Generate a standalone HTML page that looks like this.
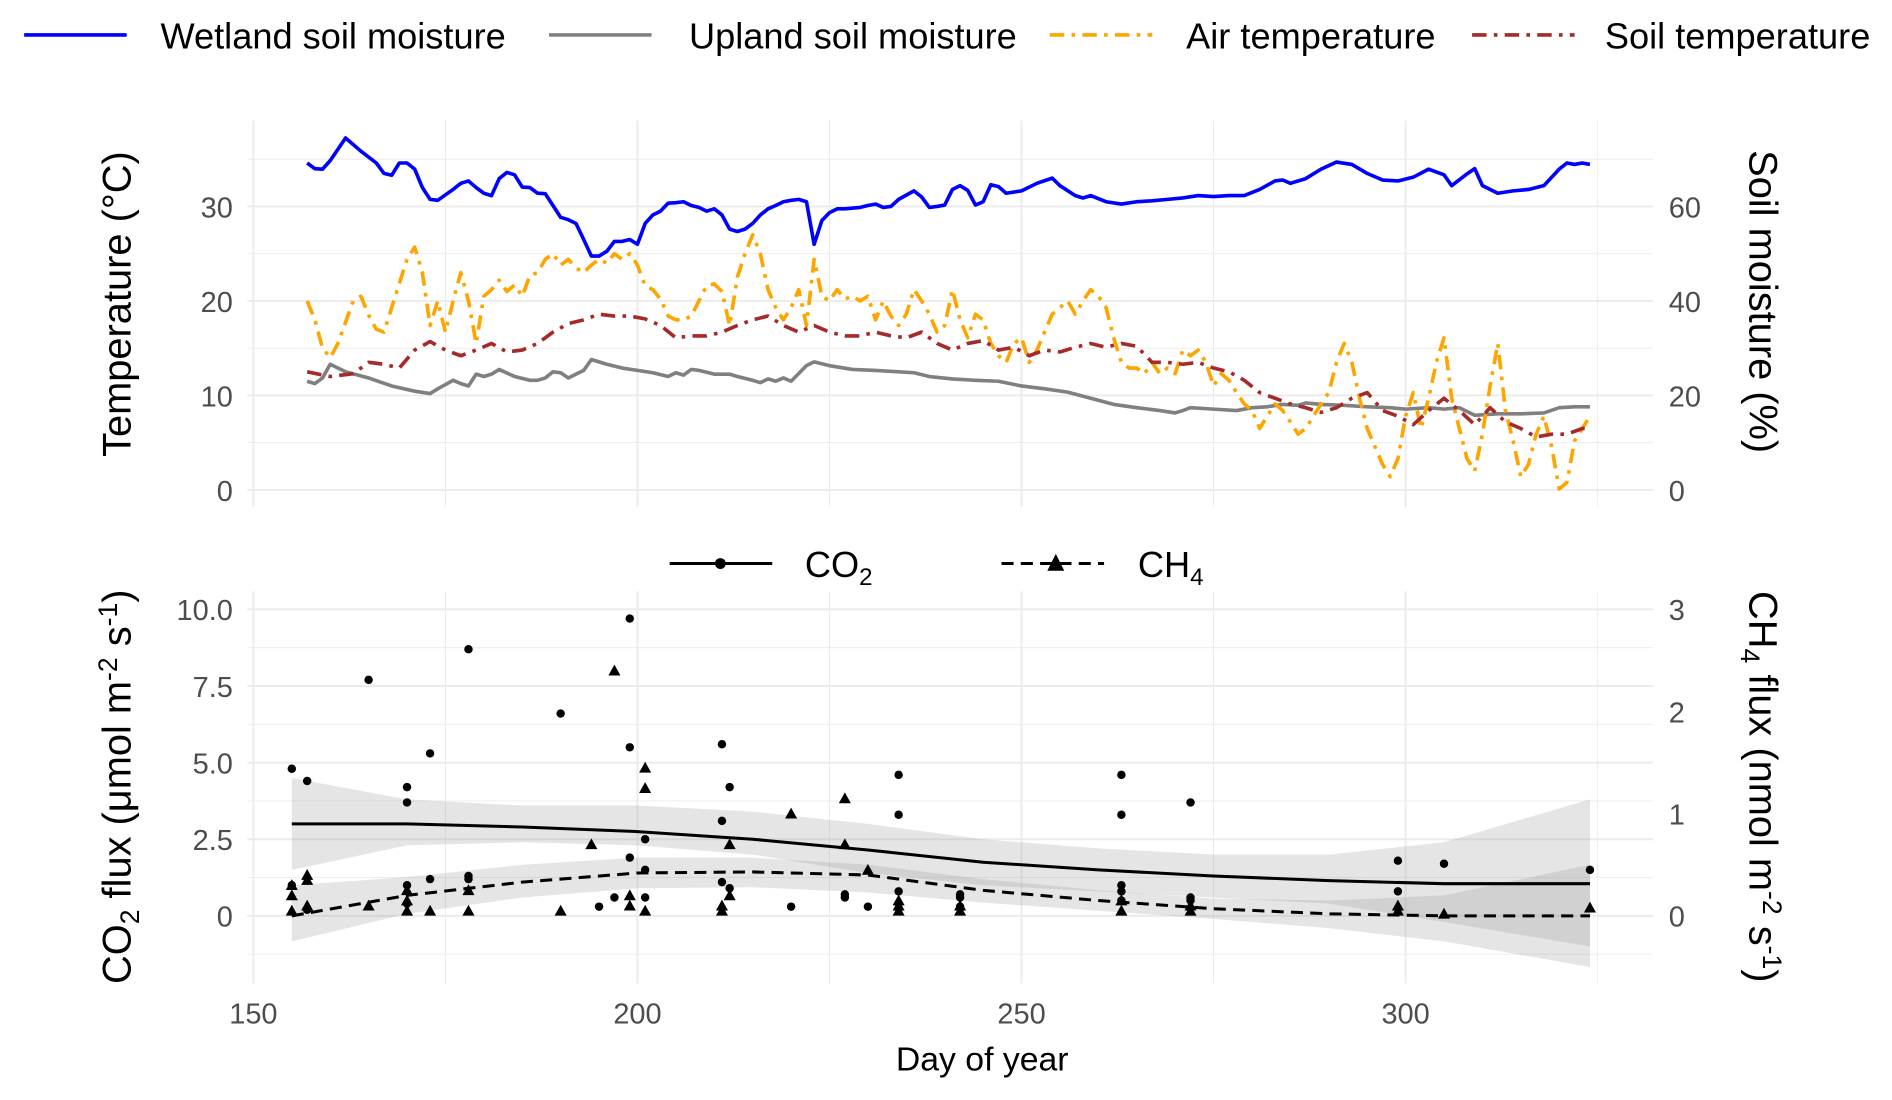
<!DOCTYPE html>
<html><head><meta charset="utf-8"><style>
html,body{margin:0;padding:0;background:#fff;}
svg{display:block;font-family:"Liberation Sans",Arial,sans-serif;}
.tick{font-size:24px;fill:#4d4d4d;}
.ttl{font-size:33px;fill:#000;}
.leg{font-size:30px;fill:#000;}
</style></head><body>
<svg id="chart" width="1892" height="1100" viewBox="0 0 1568 911.6" preserveAspectRatio="none" xmlns="http://www.w3.org/2000/svg">
<g id="top-grid"></g>
<g id="bot-grid"></g>
<g id="ribbons"></g>
<g id="series"></g>
<g id="axes"></g>
<g>
 <g><line x1="20" y1="29" x2="105" y2="29" stroke="#0000ff" stroke-width="3"/><text class="leg" x="133" y="40">Wetland soil moisture</text></g>
 <g><line x1="455" y1="29" x2="540" y2="29" stroke="#808080" stroke-width="3"/><text class="leg" x="571" y="40">Upland soil moisture</text></g>
 <g><line x1="870" y1="29" x2="955" y2="29" stroke="#FFA500" stroke-width="3" stroke-dasharray="12,6,3,6"/><text class="leg" x="983" y="40">Air temperature</text></g>
 <g><line x1="1220" y1="29" x2="1305" y2="29" stroke="#A52A2A" stroke-width="3" stroke-dasharray="12,6,3,6"/><text class="leg" x="1330" y="40">Soil temperature</text></g>
</g>
<g>
 <g><line x1="555" y1="467" x2="640" y2="467" stroke="#000" stroke-width="2.5"/><circle cx="597" cy="467" r="4.5" fill="#000"/><text class="leg" x="667" y="478">CO<tspan font-size="20" dy="7">2</tspan></text></g>
 <g><line x1="830" y1="467" x2="915" y2="467" stroke="#000" stroke-width="2.5" stroke-dasharray="10,6"/><path d="M875,459 L882,473 L868,473 Z" fill="#000"/><text class="leg" x="943" y="478">CH<tspan font-size="20" dy="7">4</tspan></text></g>
</g>
<text class="ttl" transform="translate(108,252) rotate(-90)" text-anchor="middle">Temperature (°C)</text>
<text class="ttl" transform="translate(1450,250) rotate(90)" text-anchor="middle">Soil moisture (%)</text>
<text class="ttl" transform="translate(108,652) rotate(-90)" text-anchor="middle">CO<tspan font-size="22" dy="7">2</tspan><tspan dy="-7"> flux (μmol m</tspan><tspan font-size="22" dy="-11">-2</tspan><tspan dy="11"> s</tspan><tspan font-size="22" dy="-11">-1</tspan><tspan dy="11">)</tspan></text>
<text class="ttl" transform="translate(1450,652) rotate(90)" text-anchor="middle">CH<tspan font-size="22" dy="7">4</tspan><tspan dy="-7"> flux (nmol m</tspan><tspan font-size="22" dy="-11">-2</tspan><tspan dy="11"> s</tspan><tspan font-size="22" dy="-11">-1</tspan><tspan dy="11">)</tspan></text>
<text x="814" y="887" text-anchor="middle" style="font-size:28px;fill:#000">Day of year</text>
<script>
// ---- data ----
const xTicks=[150,200,250,300];
const tempTicks=[0,10,20,30];
const moistTicks=[0,20,40,60];
const co2Ticks=[0,2.5,5,7.5,10];
const co2TickLabels=["0","2.5","5.0","7.5","10.0"];
const ch4Ticks=[0,1,2,3];
const wetDays=[157,158,159,160,162,164,166,167,168,169,170,171,172,173,174,176,177,178,179,180,181,182,183,184,185,186,187,188,189,190,191,192,193,194,195,196,197,198,199,200,201,202,203,204,205,206,207,208,209,210,211,212,213,214,215,216,217,218,219,220,221,222,223,224,225,226,227,229,230,231,232,233,234,236,237,238,239,240,241,242,243,244,245,246,247,248,250,252,254,255,257,258,259,261,263,265,267,269,271,273,275,277,279,281,283,284,285,287,289,291,293,295,297,299,301,303,305,306,308,309,310,312,314,316,318,320,321,322,323,324];
const wetMoist=[69.2,68,67.9,69.7,74.5,71.7,69.2,67,66.6,69.2,69.2,67.9,64,61.5,61.3,63.6,64.9,65.4,64,62.8,62.3,65.9,67.2,66.7,64.1,64,62.8,62.7,60.2,57.7,57.2,56.4,53,49.5,49.5,50.5,52.6,52.6,53,52,56.4,58.2,59,60.7,60.8,61,60.2,59.8,59,59.5,58.2,55.2,54.7,55.2,56.4,58.2,59.5,60.2,61,61.3,61.5,61,52,57,58.7,59.5,59.5,59.8,60.2,60.5,59.8,60,61.5,63.3,62,59.8,60,60.3,63.6,64.4,63.4,60.3,61,64.6,64.2,62.8,63.3,64.9,66,64.4,62.3,61.8,62.3,61,60.5,61,61.2,61.5,61.8,62.3,62.1,62.3,62.3,63.6,65.4,65.6,64.9,65.9,67.9,69.4,68.9,67,65.6,65.4,66.2,67.9,66.7,64.4,66.9,68,64.4,62.8,63.3,63.6,64.4,67.9,69.2,68.9,69.2,68.9];
const upDays=[157,158,159,160,162,165,168,171,173,174,176,177,178,179,180,181,182,184,186,187,188,189,190,191,192,193,194,196,198,200,202,204,205,206,207,208,210,212,213,215,216,217,218,219,220,222,223,225,228,231,234,236,238,241,244,247,250,253,256,259,262,265,268,270,271,272,275,278,280,282,284,286,287,289,292,295,298,300,303,305,307,309,312,315,318,320,322,324];
const upMoist=[23.0,22.5,23.7,26.6,25.0,23.7,22.0,20.9,20.4,21.4,23.2,22.5,22.0,24.5,24.0,24.5,25.5,24.0,23.2,23.2,23.7,25.0,24.8,23.7,24.5,25.3,27.6,26.6,25.8,25.3,24.8,24.0,24.8,24.3,25.5,25.3,24.5,24.5,24.0,23.2,22.7,23.5,23.0,23.7,23.0,26.3,27.1,26.3,25.5,25.3,25.0,24.8,24.0,23.5,23.2,23.0,22.0,21.4,20.7,19.4,18.1,17.4,16.8,16.3,16.8,17.4,17.1,16.8,17.4,17.6,18.1,17.9,18.4,18.1,17.9,17.6,17.4,17.1,17.4,17.1,17.4,15.8,16.1,16.1,16.3,17.4,17.6,17.6];
const airDays=[157,158,159,160,161,163,164,165,166,167,168,170,171,172,173,174,175,176,177,178,179,180,181,182,183,184,185,186,187,188,189,190,191,192,193,194,195,196,197,198,199,200,201,202,203,204,205,206,207,208,209,210,211,212,213,214,215,216,217,218,219,220,221,222,223,224,225,226,227,228,229,230,231,232,233,234,235,236,237,238,239,240,241,242,243,244,245,246,247,248,249,250,251,252,253,254,255,256,257,258,259,260,261,262,263,264,265,266,267,268,269,270,271,272,273,274,275,276,277,278,279,280,281,282,283,284,285,286,287,288,289,290,291,292,293,294,295,296,297,298,299,300,301,302,303,304,305,306,307,308,309,310,311,312,313,314,315,316,317,318,319,320,321,322,323,324];
const airTemp=[20,18,15,14,15.5,20,20.5,18.5,17,16.7,19.3,24.4,25.7,23,17.4,20,16.7,20,23,20,15.5,20.5,21.2,22.2,21,21.7,20.5,22.7,23,24.4,25,23.8,24.4,23.5,23,23.8,24.4,24,25,24.4,25,23.8,21.6,21.2,20.2,18.4,18,18,18.4,20,21.6,21.8,21,17.4,22.5,25,27,25,21.2,19.3,18,19.3,21.2,17.4,24.4,20.5,20,21.2,20.2,20.5,20,20.5,18,20,18.4,17.4,18.6,21.2,20,18.6,16.7,17.4,21.2,18,16.1,18.6,18,15.5,14.2,13.5,15.5,16.1,13.5,14.8,16.7,18.6,19.3,20,18.6,20,21.2,20.5,19.3,16.1,13.5,12.9,12.9,12.3,13.5,12.3,12.9,12.3,14.8,14.2,14.8,13.5,11,12.3,11.6,10.3,9.1,8.4,6.5,7.8,9.1,8.4,7.2,5.9,6.5,7.8,9.1,10.3,13.5,15.5,13.5,9.7,6.5,4.6,2.7,1.4,3.3,7.8,10.3,6.5,9.7,13.5,16.1,9.7,6.5,3.3,2,5.9,11,15.5,8.4,5.2,1.4,2.7,5.9,7.8,4.6,0.1,0.8,5.2,6.5,7.8];
const soilDays=[157,160,163,165,167,169,171,173,175,177,179,181,183,185,187,189,191,193,195,197,199,201,203,205,207,209,211,213,215,217,219,221,223,225,227,229,231,233,235,237,239,241,243,245,247,249,251,253,255,257,259,261,263,265,267,269,271,273,275,277,279,281,283,285,287,289,291,293,295,297,299,301,303,305,307,309,311,313,315,317,319,321,323,324];
const soilTemp=[12.5,12,12.3,13.5,13.3,12.9,14.8,15.7,14.8,14.2,14.8,15.5,14.6,14.8,15.5,16.7,17.6,18,18.6,18.4,18.4,18.1,17.4,16.1,16.3,16.3,16.7,17.4,18,18.4,17.4,16.7,17.4,16.7,16.3,16.3,16.7,16.3,16.1,16.7,15.5,14.8,15.5,15.8,14.8,15.1,14.2,14.8,14.6,15.1,15.5,15.1,15.5,15.2,13.5,13.5,13.3,13.5,12.9,12.5,11.6,10.3,9.7,9.1,8.7,8.2,8.7,9.7,10.3,8.4,7.8,6.9,8.4,9.7,8.4,6.9,8.7,7.2,6.5,5.6,5.9,5.9,6.5,6.5];
const co2Days=[155,157,155,157,165,170,170,170,170,173,173,178,178,178,190,195,197,199,199,199,201,201,201,211,211,211,212,212,220,227,227,230,234,234,234,234,242,242,242,263,263,263,263,263,272,272,272,299,299,305,324];
const co2Flux=[4.8,4.4,1.0,0.2,7.7,4.2,3.7,1.0,0.4,5.3,1.2,8.7,1.3,1.2,6.6,0.3,0.6,9.7,5.5,1.9,2.5,1.5,0.6,5.6,3.1,1.1,4.2,0.9,0.3,0.7,0.6,0.3,4.6,3.3,0.8,0.4,0.7,0.6,0.3,4.6,3.3,1.0,0.8,0.5,3.7,0.6,0.5,1.8,0.8,1.7,1.5];
const ch4Days=[155,155,155,157,157,157,165,170,170,170,173,178,178,190,194,197,199,199,201,201,201,211,211,212,212,220,227,227,230,234,234,234,242,242,263,263,272,272,299,299,305,324];
const ch4Flux=[0.2,0.3,0.05,0.4,0.35,0.1,0.1,0.25,0.15,0.05,0.05,0.25,0.05,0.05,0.7,2.4,0.2,0.1,1.45,1.25,0.05,0.05,0.1,0.7,0.2,1.0,1.15,0.7,0.45,0.15,0.1,0.05,0.05,0.1,0.05,0.15,0.05,0.1,0.05,0.1,0.02,0.08];
const fitDays=[155,170,185,200,215,230,245,260,275,290,305,324];
const co2Fit=[3.0,3.0,2.9,2.75,2.5,2.15,1.75,1.5,1.3,1.15,1.05,1.05];
const co2Upper=[4.5,3.8,3.6,3.6,3.4,3.0,2.5,2.2,2.0,2.0,2.4,3.8];
const co2Lower=[1.5,2.3,2.4,2.3,2.0,1.4,1.0,0.8,0.6,0.4,-0.2,-1.0];
const ch4Fit=[0.0,0.2,0.33,0.42,0.43,0.4,0.25,0.15,0.07,0.02,0.0,0.0];
const ch4Upper=[0.3,0.38,0.5,0.57,0.57,0.5,0.36,0.25,0.17,0.15,0.2,0.5];
const ch4Lower=[-0.25,0.02,0.18,0.27,0.28,0.23,0.13,0.05,-0.03,-0.12,-0.25,-0.5];
// ---- scales ----
const NS='http://www.w3.org/2000/svg';
const xS=d=>210+(d-150)*6.366;
const yT=t=>406-t*7.83;
const yM=m=>406-m*3.915;
const yC=c=>759-c*25.4;
const CH4R=3.333;
const yCH=v=>yC(v*CH4R);
function mk(tag,attrs,parent){const e=document.createElementNS(NS,tag);for(const k in attrs)e.setAttribute(k,attrs[k]);parent.appendChild(e);return e;}
const tg=document.getElementById('top-grid'),bg=document.getElementById('bot-grid'),rb=document.getElementById('ribbons'),sr=document.getElementById('series'),ax=document.getElementById('axes');
for(let d=150;d<=325;d+=25){const maj=(d%50===0);
 let l=mk('line',{x1:xS(d),x2:xS(d),y1:100,y2:420,stroke:'#ebebeb','stroke-width':maj?1.6:0.8},tg);
 
 l=mk('line',{x1:xS(d),x2:xS(d),y1:490,y2:815,stroke:'#ebebeb','stroke-width':maj?1.6:0.8},bg);
 }
for(let t=0;t<=35;t+=5){const l=mk('line',{x1:205,x2:1370,y1:yT(t),y2:yT(t),stroke:'#ebebeb','stroke-width':t%10===0?1.6:0.8},tg);
 }
for(let c=-1.25;c<=10.01;c+=1.25){const maj=Math.abs(c/2.5-Math.round(c/2.5))<0.01;const l=mk('line',{x1:205,x2:1370,y1:yC(c),y2:yC(c),stroke:'#ebebeb','stroke-width':maj?1.6:0.8},bg);
 }
xTicks.forEach(d=>{const t=mk('text',{x:xS(d),y:848,'text-anchor':'middle',class:'tick'},ax);t.textContent=d;
 });
tempTicks.forEach(v=>{const t=mk('text',{x:193,y:yT(v)+9,'text-anchor':'end',class:'tick'},ax);t.textContent=v;
 });
moistTicks.forEach(v=>{const t=mk('text',{x:1383,y:yM(v)+9,'text-anchor':'start',class:'tick'},ax);t.textContent=v;
 });
co2Ticks.forEach((v,i)=>{const t=mk('text',{x:193,y:yC(v)+9,'text-anchor':'end',class:'tick'},ax);t.textContent=co2TickLabels[i];
 });
ch4Ticks.forEach(v=>{const t=mk('text',{x:1383,y:Math.max(yCH(v),503)+9,'text-anchor':'start',class:'tick'},ax);t.textContent=v;
 });
function ribbon(days,up,lo,fy,name){let p='M'+days.map((d,i)=>xS(d)+','+fy(up[i])).join(' L');
 p+=' L'+days.slice().reverse().map((d,i)=>xS(d)+','+fy(lo[lo.length-1-i])).join(' L')+' Z';
 const e=mk('path',{d:p,fill:'#999','fill-opacity':0.25},rb);}
ribbon(fitDays,co2Upper,co2Lower,yC,'co2-confidence-band');
ribbon(fitDays,ch4Upper,ch4Lower,yCH,'ch4-confidence-band');
function line(days,vals,fy,attrs,name){const e=mk('polyline',Object.assign({points:days.map((d,i)=>xS(d)+','+fy(vals[i])).join(' '),fill:'none','stroke-linejoin':'round'},attrs),sr);
 }
line(upDays,upMoist,yM,{stroke:'#808080','stroke-width':3},'upland-soil-moisture-line');
line(airDays,airTemp,yT,{stroke:'#FFA500','stroke-width':3,'stroke-dasharray':'12,6,3,6'},'air-temperature-line');
line(soilDays,soilTemp,yT,{stroke:'#A52A2A','stroke-width':3,'stroke-dasharray':'12,6,3,6'},'soil-temperature-line');
line(wetDays,wetMoist,yM,{stroke:'#0000ff','stroke-width':3},'wetland-soil-moisture-line');
line(fitDays,co2Fit,yC,{stroke:'#000','stroke-width':2.5},'co2-smooth-line');
line(fitDays,ch4Fit,yCH,{stroke:'#000','stroke-width':2.5,'stroke-dasharray':'10,6'},'ch4-smooth-line');
co2Days.forEach((d,i)=>{const c=mk('circle',{cx:xS(d),cy:yC(co2Flux[i]),r:3.5,fill:'#000'},sr);
 });
ch4Days.forEach((d,i)=>{const x=xS(d),y=yCH(ch4Flux[i]);const p=mk('path',{d:`M${x},${y-5} L${x+5},${y+4} L${x-5},${y+4} Z`,fill:'#000'},sr);
 });
</script>
</svg>
</body></html>
